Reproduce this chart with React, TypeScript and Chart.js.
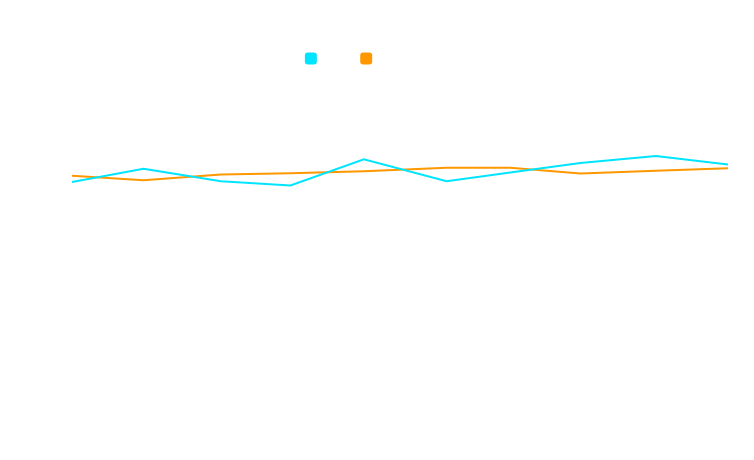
import React, { useEffect, useRef } from "react";
import { Chart, registerables } from "chart.js";

Chart.register(...registerables);

const chartTitle = "Daily readings";
const xLabel = "Day";
const yLabel = "Value";
const xValues = [0, 10.9, 22.7, 33.3, 44.5, 57.1, 66.8, 77.5, 89, 100];
const seriesNames = ["Price", "Trend line"];
const cyanValues = [69.2, 73.0, 69.4, 68.2, 75.7, 69.4, 71.9, 74.6, 76.6, 74.2];
const orangeValues = [71.0, 69.7, 71.3, 71.7, 72.3, 73.3, 73.3, 71.6, 72.4, 73.1];
const yMin = 0;
const yMax = 100;

export default function App() {
  const ref = useRef<HTMLCanvasElement | null>(null);
  useEffect(() => {
    if (!ref.current) return;
    const white = "#ffffff";
    const chart = new Chart(ref.current, {
      type: "line",
      data: {
        datasets: [
          {
            label: seriesNames[0],
            data: xValues.map((x, i) => ({ x, y: cyanValues[i] })),
            borderColor: "#00E5FF",
            backgroundColor: "#00E5FF",
            borderWidth: 2,
            pointRadius: 0,
            tension: 0,
          },
          {
            label: seriesNames[1],
            data: xValues.map((x, i) => ({ x, y: orangeValues[i] })),
            borderColor: "#FF9800",
            backgroundColor: "#FF9800",
            borderWidth: 2,
            pointRadius: 0,
            tension: 0,
          },
        ],
      },
      options: {
        animation: false,
        responsive: true,
        maintainAspectRatio: false,
        layout: { padding: { right: 18 } },
        plugins: {
          title: { display: true, text: chartTitle, color: white },
          legend: {
            labels: {
              color: white,
              boxWidth: 12,
              boxHeight: 12,
              useBorderRadius: true,
              borderRadius: 3,
              generateLabels: (c: any) =>
                Chart.defaults.plugins.legend.labels.generateLabels(c).map((l: any) => ({
                  ...l,
                  lineWidth: 0,
                  strokeStyle: "rgba(0,0,0,0)",
                })),
            },
          },
          tooltip: { enabled: false },
        },
        scales: {
          x: {
            type: "linear",
            min: 0,
            max: 100,
            ticks: { color: white },
            grid: { color: white },
            border: { color: white },
            title: { display: false, text: xLabel, color: white },
          },
          y: {
            min: yMin,
            max: yMax,
            ticks: { color: white },
            grid: { color: white },
            border: { color: white },
            title: { display: false, text: yLabel, color: white },
            afterFit: (scale: any) => {
              scale.width = 64;
            },
          },
        },
      },
    });
    return () => chart.destroy();
  }, []);
  return (
    <div style={{ width: 738, height: 444, position: "relative" }}>
      <canvas ref={ref} />
    </div>
  );
}
